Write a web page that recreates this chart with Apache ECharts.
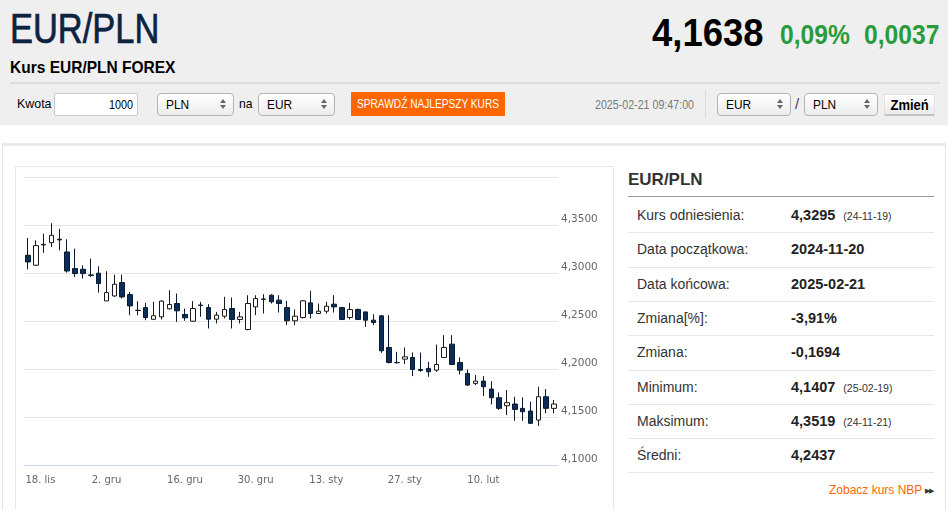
<!DOCTYPE html>
<html><head><meta charset="utf-8">
<script src="https://cdn.jsdelivr.net/npm/echarts@6/dist/echarts.min.js"></script>
<style>
html,body{margin:0;padding:0;width:948px;height:510px;overflow:hidden;background:#fff;font-family:'Liberation Sans',Arial,sans-serif;}
.a{position:absolute;white-space:nowrap;}
.s{display:inline-block;transform-origin:0 50%;}
.sel{position:absolute;height:23px;border:1px solid #b5b5b5;border-radius:4px;background:linear-gradient(#ffffff,#ececec);box-sizing:border-box;font-size:13.5px;line-height:21px;padding-left:8px;color:#000;white-space:nowrap;}
.sel .s{transform:scaleX(0.88);}
.sel i{position:absolute;right:7px;top:5px;width:0;height:0;border-left:3px solid transparent;border-right:3px solid transparent;border-bottom:4px solid #666;}
.sel i:after{content:'';position:absolute;left:-3px;top:6px;width:0;height:0;border-left:3px solid transparent;border-right:3px solid transparent;border-top:4px solid #666;}
.lbl{position:absolute;left:637px;font-size:14px;color:#333;line-height:16px;white-space:nowrap;}
.val{position:absolute;left:791px;font-size:14.5px;font-weight:bold;color:#222;line-height:16px;white-space:nowrap;}
.val small{font-size:10.5px;font-weight:normal;margin-left:8px;color:#333;}
.sep{position:absolute;left:628px;width:306px;height:1px;background:#e6e6e6;}
#chart{position:absolute;left:0;top:0;width:948px;height:510px;z-index:2;pointer-events:none;}
</style></head>
<body>
<div class="a" style="left:0;top:0;width:948px;height:125px;background:#efefef;"></div>
<div class="a" style="left:10px;top:8px;font-size:42px;line-height:42px;color:#0d2341;-webkit-text-stroke:0.7px #0d2341;"><span class="s" style="transform:scaleX(0.82)">EUR/PLN</span></div>
<div class="a" style="left:10px;top:59px;font-size:16.5px;line-height:16px;font-weight:bold;color:#000;"><span class="s" style="transform:scaleX(0.94)">Kurs EUR/PLN FOREX</span></div>
<div class="a" style="left:652px;top:13px;font-size:39px;line-height:39px;font-weight:bold;color:#000;"><span class="s" style="transform:scaleX(0.935)">4,1638</span></div>
<div class="a" style="left:780px;top:21px;font-size:28px;line-height:28px;font-weight:bold;color:#2a9b3c;"><span class="s" style="transform:scaleX(0.88)">0,09%</span></div>
<div class="a" style="left:864px;top:21px;font-size:28px;line-height:28px;font-weight:bold;color:#2a9b3c;"><span class="s" style="transform:scaleX(0.88)">0,0037</span></div>
<div class="a" style="left:10px;top:82px;width:930px;height:2px;background:#dcdcdc;"></div>

<div class="a" style="left:17px;top:96px;font-size:13.5px;line-height:16px;color:#000;"><span class="s" style="transform:scaleX(0.92)">Kwota</span></div>
<div class="a" style="left:54px;top:93px;width:84px;height:23px;box-sizing:border-box;border:1px solid #c8c8c8;border-radius:2px;background:#fff;font-size:13.5px;line-height:21px;text-align:right;padding-right:4px;"><span class="s" style="transform:scaleX(0.8);transform-origin:100% 50%">1000</span></div>
<div class="sel" style="left:157px;top:93px;width:77px;"><span class="s">PLN</span><i></i></div>
<div class="a" style="left:239px;top:96px;font-size:13.5px;line-height:16px;color:#000;"><span class="s" style="transform:scaleX(0.9)">na</span></div>
<div class="sel" style="left:258px;top:93px;width:77px;"><span class="s">EUR</span><i></i></div>
<div class="a" style="left:351px;top:92px;width:154px;height:24px;background:#ff6600;color:#fff;font-size:13px;line-height:24px;"><span style="position:absolute;left:50%;top:0;white-space:nowrap;transform:translateX(-50%) scaleX(0.78);transform-origin:50% 50%;">SPRAWDŹ NAJLEPSZY KURS</span></div>
<div class="a" style="left:595px;top:97px;font-size:13px;line-height:15px;color:#777;"><span class="s" style="transform:scaleX(0.82)">2025-02-21 09:47:00</span></div>
<div class="a" style="left:705px;top:90px;width:1px;height:28px;background:#dcdcdc;"></div>
<div class="sel" style="left:717px;top:93px;width:74px;"><span class="s">EUR</span><i></i></div>
<div class="a" style="left:795px;top:95px;font-size:15px;line-height:17px;color:#444;">/</div>
<div class="sel" style="left:804px;top:93px;width:74px;"><span class="s">PLN</span><i></i></div>
<div class="a" style="left:884px;top:94px;width:51px;height:22px;box-sizing:border-box;border:1px solid #e2e2e2;border-bottom:2px solid #c4c4c4;background:linear-gradient(#ffffff,#ebebeb);font-size:14px;font-weight:bold;line-height:20px;text-align:center;color:#000;"><span class="s" style="transform:scaleX(0.93);transform-origin:50% 50%">Zmień</span></div>

<div class="a" style="left:2px;top:143px;width:942px;height:380px;border-top:3px solid #ebebeb;border-left:1px solid #e6e6e6;border-right:1px solid #e6e6e6;"></div>
<div class="a" style="left:15px;top:166px;width:597px;height:360px;border:1px solid #e8e8e8;"></div>

<div class="a" style="left:628px;top:171px;font-size:17px;line-height:18px;font-weight:bold;color:#333;">EUR/PLN</div>
<div class="a" style="left:628px;top:196px;width:306px;height:1px;background:#9a9a9a;"></div>
<div id="tbl"></div>
<div class="a" style="left:829px;top:483px;font-size:12px;line-height:14px;color:#ff6600;">Zobacz kurs NBP <span style="color:#333;font-size:7px;letter-spacing:-1px;vertical-align:1px;">▶▶</span></div>

<div id="chart"></div>
<script>
// ---- table data ----
const rowLabels = ['Kurs odniesienia:','Data początkowa:','Data końcowa:','Zmiana[%]:','Zmiana:','Minimum:','Maksimum:','Średni:'];
const rowValues = ['4,3295','2024-11-20','2025-02-21','-3,91%','-0,1694','4,1407','4,3519','4,2437'];
const rowNotes  = ['(24-11-19)','','','','','(25-02-19)','(24-11-21)',''];

// ---- chart data ----
const dates = [
'2024-11-18','2024-11-19','2024-11-20','2024-11-21','2024-11-22',
'2024-11-25','2024-11-26','2024-11-27','2024-11-28','2024-11-29',
'2024-12-02','2024-12-03','2024-12-04','2024-12-05','2024-12-06',
'2024-12-09','2024-12-10','2024-12-11','2024-12-12','2024-12-13',
'2024-12-16','2024-12-17','2024-12-18','2024-12-19','2024-12-20',
'2024-12-23','2024-12-24','2024-12-26','2024-12-27',
'2024-12-30','2024-12-31','2025-01-02','2025-01-03',
'2025-01-06','2025-01-07','2025-01-08','2025-01-09','2025-01-10',
'2025-01-13','2025-01-14','2025-01-15','2025-01-16','2025-01-17',
'2025-01-20','2025-01-21','2025-01-22','2025-01-23','2025-01-24',
'2025-01-27','2025-01-28','2025-01-29','2025-01-30','2025-01-31',
'2025-02-03','2025-02-04','2025-02-05','2025-02-06','2025-02-07',
'2025-02-10','2025-02-11','2025-02-12','2025-02-13','2025-02-14',
'2025-02-17','2025-02-18','2025-02-19','2025-02-20','2025-02-21'];
const opens = [
4.3185,4.3081,4.3292,4.3316,4.3352,4.3219,4.3046,4.3039,4.2980,4.2998,
4.2709,4.2761,4.2900,4.2775,4.2612,4.2640,4.2518,4.2543,4.2627,4.2682,
4.2568,4.2498,4.2666,4.2641,4.2519,4.2550,4.2630,4.2516,4.2411,
4.2647,4.2729,4.2769,4.2717,4.2640,4.2502,4.2536,4.2689,4.2578,
4.2602,4.2675,4.2640,4.2536,4.2620,4.2595,4.2509,4.2554,4.2224,4.2068,
4.2103,4.2120,4.1995,4.2006,4.1988,4.2120,4.2259,4.2068,4.1954,4.1850,
4.1874,4.1791,4.1701,4.1618,4.1635,4.1590,4.1562,4.1468,4.1711,4.1590];
const closes = [
4.3115,4.3285,4.3298,4.3393,4.3345,4.3021,4.2994,4.2994,4.2975,4.2890,
4.2796,4.2883,4.2751,4.2657,4.2609,4.2536,4.2555,4.2707,4.2672,4.2606,
4.2533,4.2630,4.2662,4.2519,4.2561,4.2620,4.2516,4.2543,4.2682,
4.2734,4.2726,4.2700,4.2682,4.2502,4.2550,4.2710,4.2578,4.2602,
4.2654,4.2647,4.2516,4.2620,4.2516,4.2509,4.2484,4.2190,4.2068,4.2065,
4.2127,4.1995,4.1985,4.1971,4.2047,4.2224,4.2047,4.1988,4.1833,4.1874,
4.1815,4.1701,4.1590,4.1649,4.1579,4.1555,4.1434,4.1711,4.1590,4.1635];
const lows = [
4.3039,4.3074,4.3209,4.3271,4.3237,4.3004,4.2959,4.2942,4.2959,4.2796,
4.2709,4.2751,4.2733,4.2560,4.2560,4.2508,4.2516,4.2516,4.2620,4.2491,
4.2502,4.2491,4.2544,4.2422,4.2474,4.2526,4.2422,4.2474,4.2404,
4.2561,4.2578,4.2682,4.2588,4.2457,4.2457,4.2526,4.2526,4.2578,
4.2578,4.2588,4.2509,4.2516,4.2509,4.2439,4.2457,4.2169,4.2058,4.2058,
4.2051,4.1926,4.1971,4.1919,4.1971,4.2120,4.2040,4.1943,4.1822,4.1833,
4.1718,4.1631,4.1573,4.1520,4.1461,4.1461,4.1430,4.1407,4.1538,4.1538];
const highs = [
4.3365,4.3340,4.3410,4.3519,4.3462,4.3351,4.3254,4.3081,4.3150,4.3070,
4.3018,4.2983,4.2983,4.2803,4.2706,4.2690,4.2700,4.2717,4.2821,4.2786,
4.2630,4.2707,4.2700,4.2675,4.2595,4.2752,4.2745,4.2595,4.2769,
4.2769,4.2779,4.2779,4.2769,4.2710,4.2620,4.2717,4.2814,4.2682,
4.2700,4.2769,4.2647,4.2689,4.2630,4.2595,4.2570,4.2561,4.2561,4.2179,
4.2224,4.2172,4.2172,4.2075,4.2255,4.2353,4.2353,4.2120,4.1995,4.1937,
4.1926,4.1874,4.1756,4.1781,4.1711,4.1704,4.1659,4.1815,4.1791,4.1677];
const tickDates  = ['2024-11-18','2024-12-02','2024-12-16','2024-12-30','2025-01-13','2025-01-27','2025-02-10'];
const tickLabels = ['18. lis','2. gru','16. gru','30. gru','13. sty','27. sty','10. lut'];
const yMin = 4.10, yMax = 4.40, yStep = 0.05;

// build table
let html = '';
rowLabels.forEach((l, i) => {
  const cy = 215 + 34.3 * i;
  html += `<div class="lbl" style="top:${(cy-8).toFixed(1)}px">${l}</div>`;
  html += `<div class="val" style="top:${(cy-8).toFixed(1)}px">${rowValues[i]}${rowNotes[i] ? '<small>' + rowNotes[i] + '</small>' : ''}</div>`;
  html += `<div class="sep" style="top:${(232.3 + 34.3 * i).toFixed(1)}px"></div>`;
});
document.getElementById('tbl').innerHTML = html;

const candles = dates.map((d, i) => [opens[i], closes[i], lows[i], highs[i]]);
const isTick = (i, v) => tickDates.indexOf(v) >= 0;

const chart = echarts.init(document.getElementById('chart'), null, {renderer: 'canvas'});
chart.setOption({
  animation: false,
  grid: {left: 24, top: 177, width: 534, height: 288, containLabel: false},
  xAxis: {
    type: 'category', data: dates, boundaryGap: true,
    axisLine: {lineStyle: {color: '#ccd6eb', width: 1}},
    axisTick: {alignWithLabel: true, length: 9, interval: isTick, lineStyle: {color: '#ccd6eb'}},
    axisLabel: {interval: isTick,
      formatter: v => { const k = tickDates.indexOf(v); return k === 0 ? '{f|' + tickLabels[k] + '}' : tickLabels[k]; },
      rich: {f: {padding: [0, 0, 0, 25], color: '#666', fontSize: 10, fontFamily: 'DejaVu Sans'}},
      align: 'center', margin: 10, color: '#666', fontSize: 10, fontFamily: 'DejaVu Sans'},
    splitLine: {show: false}
  },
  yAxis: {
    type: 'value', position: 'right', min: yMin, max: yMax, interval: yStep,
    axisLine: {show: false}, axisTick: {show: false},
    splitLine: {lineStyle: {color: '#e6e6e6', width: 1}},
    axisLabel: {formatter: v => Math.abs(v - yMax) < 1e-9 ? '' : v.toFixed(4).replace('.', ','),
      verticalAlign: 'bottom', lineHeight: 11, margin: 3, color: '#666', fontSize: 10.5, fontFamily: 'DejaVu Sans'}
  },
  series: [{
    type: 'candlestick', data: candles, barWidth: 5,
    itemStyle: {color: '#ffffff', color0: '#0b2d5a', borderColor: '#1a1a1a', borderColor0: '#0a1a30', borderWidth: 1}
  }]
});
</script>
</body></html>
